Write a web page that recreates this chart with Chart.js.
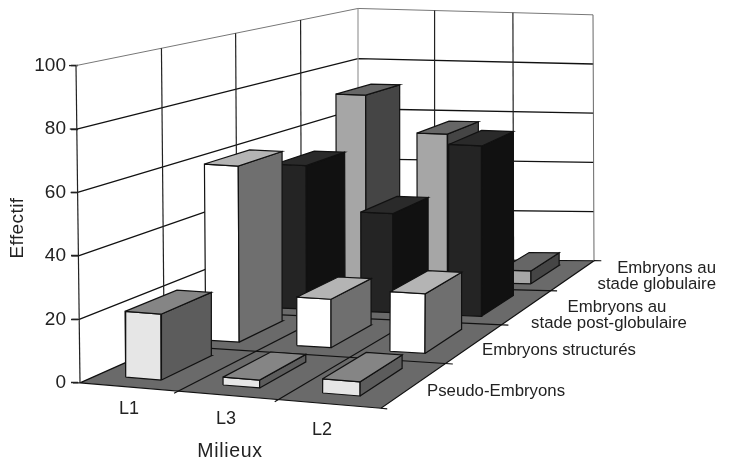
<!DOCTYPE html>
<html>
<head>
<meta charset="utf-8">
<style>
  html, body { margin: 0; padding: 0; background: #fff; }
  canvas { display: block; }
</style>
<script src="https://cdn.jsdelivr.net/npm/chart.js@4"></script>
</head>
<body>
<canvas id="chart" width="729" height="465"></canvas>
<script>
const milieux = ['L1', 'L3', 'L2'];
const serieNames = ['Pseudo-Embryons', 'Embryons structurés', 'Embryons au stade post-globulaire', 'Embryons au stade globulaire'];
const pseudoEmbryons = [21, 2.5, 4.5];
const structures = [60, 16.5, 20.3];
const postGlobulaire = [52, 36, 62];
const globulaire = [71, 57, 5];
const yTicks = [0, 20, 40, 60, 80, 100];

// front, side, top colour of each row
const rowColors = [
  ['#e6e6e6', '#5c5c5c', '#858585'],
  ['#ffffff', '#6f6f6f', '#b4b4b4'],
  ['#242424', '#111111', '#2a2a2a'],
  ['#a6a6a6', '#454545', '#666666']
];

// corners of the 3d box, x in px and y in Effectif units
const floorCorners = [[80, 0], [381, -8], [358, 39], [594, 38.5]];
const topCorners = [[76, 100], [385, 93], [358, 118], [593, 116]];

// perspective foreshortening along each floor axis
const warp = (t, k) => t * k / (1 + (k - 1) * t);

function bilinear(c, u, v, i) {
  return (c[0][i] * (1 - u) + c[1][i] * u) * (1 - v) + (c[2][i] * (1 - u) + c[3][i] * u) * v;
}

function project(u, v, z) {
  const uu = warp(u, 0.967), vv = warp(v, 1.304), t = z / 100;
  const x0 = bilinear(floorCorners, uu, vv, 0), y0 = bilinear(floorCorners, uu, vv, 1);
  const x1 = bilinear(topCorners, uu, vv, 0), y1 = bilinear(topCorners, uu, vv, 1);
  return { x: x0 + (x1 - x0) * t, y: y0 + (y1 - y0) * t };
}

const painted = [];
function polyline(points, color, width) {
  painted.push({ data: points, showLine: true, borderColor: color, borderWidth: width, pointRadius: 0, fill: false, clip: false });
}
function face(points, color) {
  painted.push({
    data: points.concat([points[0]]), showLine: true, borderColor: '#111', borderWidth: 1.2,
    backgroundColor: color, pointRadius: 0, fill: 'shape', clip: false
  });
}

// floor, then walls
face([project(0, 0, 0), project(1, 0, 0), project(1, 1, 0), project(0, 1, 0)], '#6a6a6a');
yTicks.forEach(t => {
  const c = t === 100 ? '#777' : '#111';
  if (t > 0) polyline([project(0, 0, t), project(0, 1, t), project(1, 1, t)], c, t === 100 ? 1 : 1.3);
  // tick on the left edge of the wall
  polyline([{ x: project(0, 0, t).x - 7, y: t }, project(0, 0, t)], '#222', 1.3);
});
[0, 0.25, 0.5, 0.75].forEach(v => polyline([project(0, v, 0), project(0, v, 100)], '#222', 1.2));
[1 / 3, 2 / 3].forEach(u => polyline([project(u, 1, 0), project(u, 1, 100)], '#222', 1.2));
polyline([project(0, 1, 0), project(0, 1, 100)], '#999', 1.2);
polyline([project(1, 1, 0), project(1, 1, 100)], '#666', 1);
// floor grid and its small ticks
[1 / 3, 2 / 3].forEach(u => polyline([project(u, -0.012, 0), project(u, 1, 0)], '#111', 1.2));
[0.25, 0.5, 0.75].forEach(v => polyline([project(0, v, 0), project(1.025, v, 0)], '#111', 1.2));
polyline([project(1, 0, 0), project(1.02, 0, 0)], '#111', 1.2);
polyline([project(1, 1, 0), project(1.03, 1, 0)], '#111', 1.2);

const rows = [pseudoEmbryons, structures, postGlobulaire, globulaire];
for (let j = rows.length - 1; j >= 0; j--) {
  rows[j].forEach((val, i) => {
    const u0 = (i + 0.29) / 3, u1 = (i + 0.66) / 3;
    const v0 = (j + 0.2) / 4, v1 = (j + 0.83) / 4;
    const cols = rowColors[j];
    face([project(u0, v0, 0), project(u1, v0, 0), project(u1, v0, val), project(u0, v0, val)], cols[0]);
    face([project(u1, v0, 0), project(u1, v1, 0), project(u1, v1, val), project(u1, v0, val)], cols[1]);
    face([project(u0, v0, val), project(u1, v0, val), project(u1, v1, val), project(u0, v1, val)], cols[2]);
  });
}

const textColor = '#222';
const labelPlugin = {
  id: 'labels3d',
  afterDraw(chart) {
    const ctx = chart.ctx;
    ctx.save();
    ctx.fillStyle = textColor;
    ctx.textBaseline = 'middle';
    ctx.textAlign = 'center';
    ctx.font = '18px "Liberation Sans"';
    ctx.fillText(milieux[0], 129, 409);
    ctx.fillText(milieux[1], 226, 419);
    ctx.fillText(milieux[2], 322, 430);
    ctx.font = '19.5px "Liberation Sans"';
    ctx.letterSpacing = '0.7px';
    ctx.fillText('Milieux', 230, 452);
    ctx.save();
    ctx.font = '19px "Liberation Sans"';
    ctx.letterSpacing = '0.4px';
    ctx.translate(18, 228);
    ctx.rotate(-Math.PI / 2);
    ctx.fillText('Effectif', 0, 0);
    ctx.restore();
    ctx.letterSpacing = '0px';
    ctx.font = '16.8px "Liberation Sans"';
    ctx.textAlign = 'left';
    ctx.fillText(serieNames[0], 427, 391);
    ctx.fillText(serieNames[1], 482, 350);
    ctx.textAlign = 'center';
    ctx.fillText('Embryons au', 617, 307);
    ctx.fillText('stade post-globulaire', 609, 323);
    ctx.textAlign = 'right';
    ctx.fillText('Embryons au', 716, 268);
    ctx.fillText('stade globulaire', 716, 284);
    ctx.restore();
  }
};

new Chart(document.getElementById('chart'), {
  type: 'scatter',
  data: { datasets: painted.reverse() },
  plugins: [labelPlugin],
  options: {
    responsive: false,
    animation: false,
    devicePixelRatio: 1,
    layout: { padding: { top: 2, bottom: 55, left: 0, right: 0 } },
    plugins: { legend: { display: false }, tooltip: { enabled: false } },
    scales: {
      x: { type: 'linear', display: false, min: 78, max: 729 },
      y: {
        type: 'linear',
        min: -8.55,
        max: 115.5,
        afterFit(scale) { scale.width = 78; },
        afterBuildTicks(scale) { scale.ticks = yTicks.map(value => ({ value })); },
        border: { display: false },
        grid: { drawOnChartArea: false, drawTicks: true, tickLength: 7, color: '#222', tickColor: '#222', tickWidth: 1.5 },
        ticks: { color: textColor, padding: 5, font: { family: '"Liberation Sans"', size: 19 } }
      }
    }
  }
});
</script>
</body>
</html>
